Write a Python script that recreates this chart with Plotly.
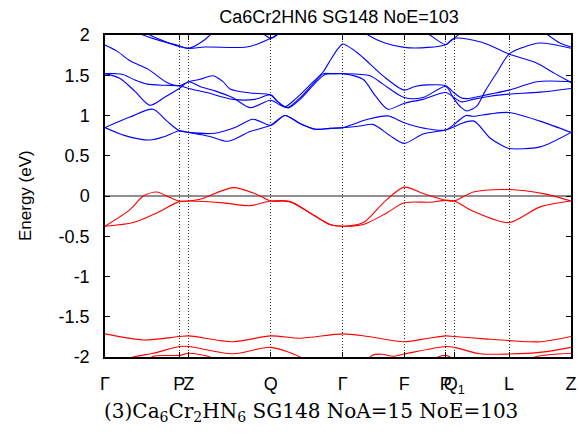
import plotly.graph_objects as go

# k-path (distance along path) and labels
kpos = [0, 74.3, 83.7, 165.7, 237.7, 299.3, 340.7, 349.3, 404, 466]
klabels = ["Γ", "P", "Z", "Q", "Γ", "F", "P", "Q<sub>1</sub>", "L", "Z"]

# conduction bands (blue), (k, E) pairs
blue_1 = [(0, 0.85), (20, 0.75), (45, 0.695), (60, 0.74), (74.3, 0.81), (83.7, 0.79), (105, 0.74),
          (123, 0.68), (145, 0.8), (165.7, 0.879), (180, 1.0), (195, 0.9), (210, 0.83), (225, 0.84),
          (237.7, 0.85), (255, 0.87), (268, 0.89), (285, 0.75), (299.3, 0.654), (318, 0.77),
          (340.7, 0.82), (349.3, 0.86), (356, 0.9), (369, 0.93), (385, 0.72), (398, 0.62),
          (404, 0.59), (435, 0.61), (466, 0.79)]
blue_2 = [(0, 0.85), (25, 0.98), (48, 1.078), (62, 0.93), (74.3, 0.81), (83.7, 0.79), (110, 0.78),
          (130, 0.85), (148, 0.953), (165.7, 0.879), (180, 1.0), (195, 0.9), (210, 0.83), (225, 0.84),
          (237.7, 0.85), (262, 0.95), (283, 0.995), (299.3, 0.91), (320, 0.84), (340.7, 0.82),
          (352, 0.92), (361, 1.0), (368, 0.99), (385, 1.02), (404, 1.037), (435, 0.93), (466, 0.79)]
blue_3 = [(0, 1.875), (12, 1.8), (25, 1.68), (43, 1.576), (62, 1.41), (74.3, 1.37), (83.7, 1.42),
          (95, 1.45), (108, 1.493), (118, 1.42), (125, 1.33), (145, 1.28), (165.7, 1.256), (173, 1.17),
          (180, 1.11), (190, 1.2), (205, 1.38), (218, 1.54), (225, 1.68), (233, 1.83), (237.7, 1.888),
          (248, 1.82), (258, 1.72), (278, 1.493), (299.3, 1.315), (310, 1.36), (322, 1.38),
          (340.7, 1.37), (349.3, 1.28), (356, 1.22), (362, 1.21), (385, 1.266), (404, 1.315),
          (432, 1.42), (466, 1.42)]
blue_4 = [(0, 1.52), (10, 1.52), (18, 1.51), (30, 1.44), (42, 1.39), (60, 1.375), (74.3, 1.37),
          (83.7, 1.336), (101.7, 1.285), (128, 1.2), (150, 1.2), (165.7, 1.256), (172, 1.18),
          (183, 1.095), (195, 1.2), (210, 1.4), (220, 1.51), (230, 1.52), (237.7, 1.52), (258, 1.45),
          (270, 1.25), (283, 1.078), (299.3, 1.153), (318, 1.2), (340.7, 1.285), (349.3, 1.22),
          (356, 1.17), (362, 1.18), (368, 1.2), (385, 1.24), (404, 1.266), (435, 1.29), (466, 1.336)]
blue_5 = [(0, 1.52), (15, 1.46), (30, 1.3), (45, 1.128), (60, 1.23), (74.3, 1.336), (83.7, 1.42),
          (95, 1.36), (110, 1.306), (128, 1.22), (145, 1.098), (165.7, 1.19), (175, 1.13), (183, 1.1),
          (195, 1.22), (210, 1.42), (218, 1.52), (228, 1.52), (237.7, 1.52), (265, 1.493), (278, 1.39),
          (299.3, 1.223), (318, 1.223), (340.7, 1.36), (349.3, 1.2), (356, 1.1), (362, 1.056),
          (372, 1.12), (380, 1.3), (392, 1.535), (404, 1.763), (418, 1.846), (435, 1.9), (466, 1.835)]
blue_6 = [(30, 2.05), (38, 2.0), (55, 1.93), (73.3, 1.87), (83.7, 1.834), (95, 1.9), (105, 2.0), (108, 2.05)]
blue_7 = [(40, 2.05), (45, 2.0), (60, 1.92), (73.3, 1.86), (83.7, 1.834), (100, 1.85), (141.7, 1.85),
          (155, 1.9), (165.7, 1.959), (171.7, 2.0), (175, 2.05)]
blue_8 = [(155, 2.05), (160, 2.0), (165.7, 1.959), (171.7, 2.0), (175, 2.05)]
blue_9 = [(258, 2.05), (263, 2.0), (280, 1.9), (299.3, 1.846), (323, 1.846), (340.7, 1.88),
          (349.3, 1.959), (376.7, 1.91), (404, 1.763), (430, 1.66), (450, 1.52), (466, 1.41)]
blue_10 = [(320, 2.05), (325, 2.0), (340.7, 1.88), (345, 1.92), (349.3, 1.959), (353, 2.0), (356, 2.05)]
blue_11 = [(438, 2.05), (443, 2.0), (455, 1.9), (466, 1.85)]

# valence bands (red)
red_1 = [(0, -0.376), (25, -0.17), (38.3, 0.0), (51.7, 0.05), (65, -0.02), (74.3, -0.062),
         (83.7, -0.062), (95, -0.04), (128.3, 0.104), (151.7, 0.02), (165.7, -0.062), (185, -0.07),
         (205, -0.21), (225, -0.355), (237.7, -0.376), (258.3, -0.33), (278.3, -0.085), (299.3, 0.11),
         (318.3, 0.03), (340.7, -0.054), (349.3, -0.062), (368.3, 0.05), (404, 0.08), (438.3, 0.03),
         (466, -0.062)]
red_2 = [(0, -0.376), (28.3, -0.33), (51.7, -0.21), (74.3, -0.07), (83.7, -0.062), (118.3, -0.085),
         (145, -0.12), (165.7, -0.062), (185, -0.07), (205, -0.21), (225, -0.355), (237.7, -0.376),
         (258.3, -0.355), (281.7, -0.21), (299.3, -0.085), (325, -0.077), (340.7, -0.054),
         (349.3, -0.062), (368.3, -0.19), (404, -0.33), (435, -0.135), (466, -0.062)]
red_3 = [(0, -1.713), (38.3, -1.788), (74.3, -1.746), (83.7, -1.738), (128.3, -1.81), (165.7, -1.738),
         (195, -1.767), (237.7, -1.713), (263.3, -1.746), (299.3, -1.81), (323.3, -1.767),
         (340.7, -1.738), (349.3, -1.746), (380, -1.775), (404, -1.796), (436.7, -1.81), (466, -1.746)]
red_4 = [(20, -2.05), (28.3, -2.0), (48.3, -1.954), (74.3, -1.87), (83.7, -1.87), (128.3, -1.96),
         (165.7, -1.88), (195, -2.0), (200, -2.05)]
red_5 = [(262, -2.05), (267, -1.98), (277, -1.965), (288, -1.99), (299.3, -1.963), (340.7, -1.87),
         (349.3, -1.88), (375, -1.96), (404, -1.963), (436.7, -1.94), (466, -1.88)]
red_6 = [(42, -2.05), (48.3, -1.99), (74.3, -1.98), (83.7, -1.954), (105, -2.0), (110, -2.05)]
red_7 = [(328, -2.05), (333, -2.0), (340.7, -1.98), (345, -2.0), (350, -2.05)]
red_8 = [(425, -2.05), (430, -2.0), (466, -1.954)]

blue_bands = [blue_1, blue_2, blue_3, blue_4, blue_5, blue_6, blue_7, blue_8, blue_9, blue_10, blue_11]
red_bands = [red_1, red_2, red_3, red_4, red_5, red_6, red_7, red_8]

fig = go.Figure()
fig.add_hline(y=0, line=dict(color="#6a6a6a", width=1.5), layer="below")
for bands, col in [(red_bands, "#ff0000"), (blue_bands, "#0000ff")]:
    for b in bands:
        fig.add_trace(go.Scatter(x=[p[0] for p in b], y=[p[1] for p in b], mode="lines",
                                 line=dict(color=col, width=1.1, shape="spline", smoothing=0.8),
                                 showlegend=False, hoverinfo="skip"))

W, H = 579, 438
font = "Liberation Sans, Arial, sans-serif"
fig.update_layout(
    width=W, height=H,
    margin=dict(l=105, r=8, t=35, b=81),
    paper_bgcolor="white", plot_bgcolor="white",
    title=dict(text="Ca6Cr2HN6 SG148 NoE=103", x=339 / W, xanchor="center",
               y=1 - 17 / H, yanchor="middle", font=dict(family=font, size=18, color="black")),
    font=dict(family=font, size=18, color="black"),
)
fig.update_xaxes(range=[0, 466], tickvals=kpos, ticktext=klabels, ticks="inside", ticklen=5,
                 tickcolor="black", showline=True, linecolor="black", linewidth=1.5, mirror="ticks",
                 showgrid=True, gridcolor="#333333", griddash="1px,2px", gridwidth=1,
                 zeroline=False, ticklabelstandoff=10, tickfont=dict(size=18),
                 tickangle=0, automargin=False)
fig.update_yaxes(range=[-2, 2], tickvals=[-2, -1.5, -1, -0.5, 0, 0.5, 1, 1.5, 2],
                 ticktext=["-2", "-1.5", "-1", "-0.5", "0", "0.5", "1", "1.5", "2"],
                 ticks="inside", ticklen=5, tickcolor="black", showline=True, linecolor="black",
                 linewidth=1.5, mirror="ticks", showgrid=False, zeroline=False,
                 ticklabelstandoff=10, automargin=False, tickfont=dict(size=18))
fig.add_annotation(text="Energy (eV)", textangle=-90, x=(25 - 105) / 466, y=0.5,
                   xref="paper", yref="paper", xanchor="center", yanchor="middle",
                   showarrow=False, font=dict(family=font, size=17))
fig.add_annotation(text="(3)Ca<sub>6</sub>Cr<sub>2</sub>HN<sub>6</sub> SG148 NoA=15 NoE=103",
                   x=(311 - 105) / 466, y=(357 - 412) / 322, xref="paper", yref="paper",
                   xanchor="center", yanchor="middle", showarrow=False,
                   font=dict(family="DejaVu Serif, Liberation Serif, serif", size=20))

# drop the browser's default 8px page margin so the figure fills the window
fig.write_html("out.html", config={"displayModeBar": False},
               post_script="document.body.style.margin='0';document.body.style.overflow='hidden';")
